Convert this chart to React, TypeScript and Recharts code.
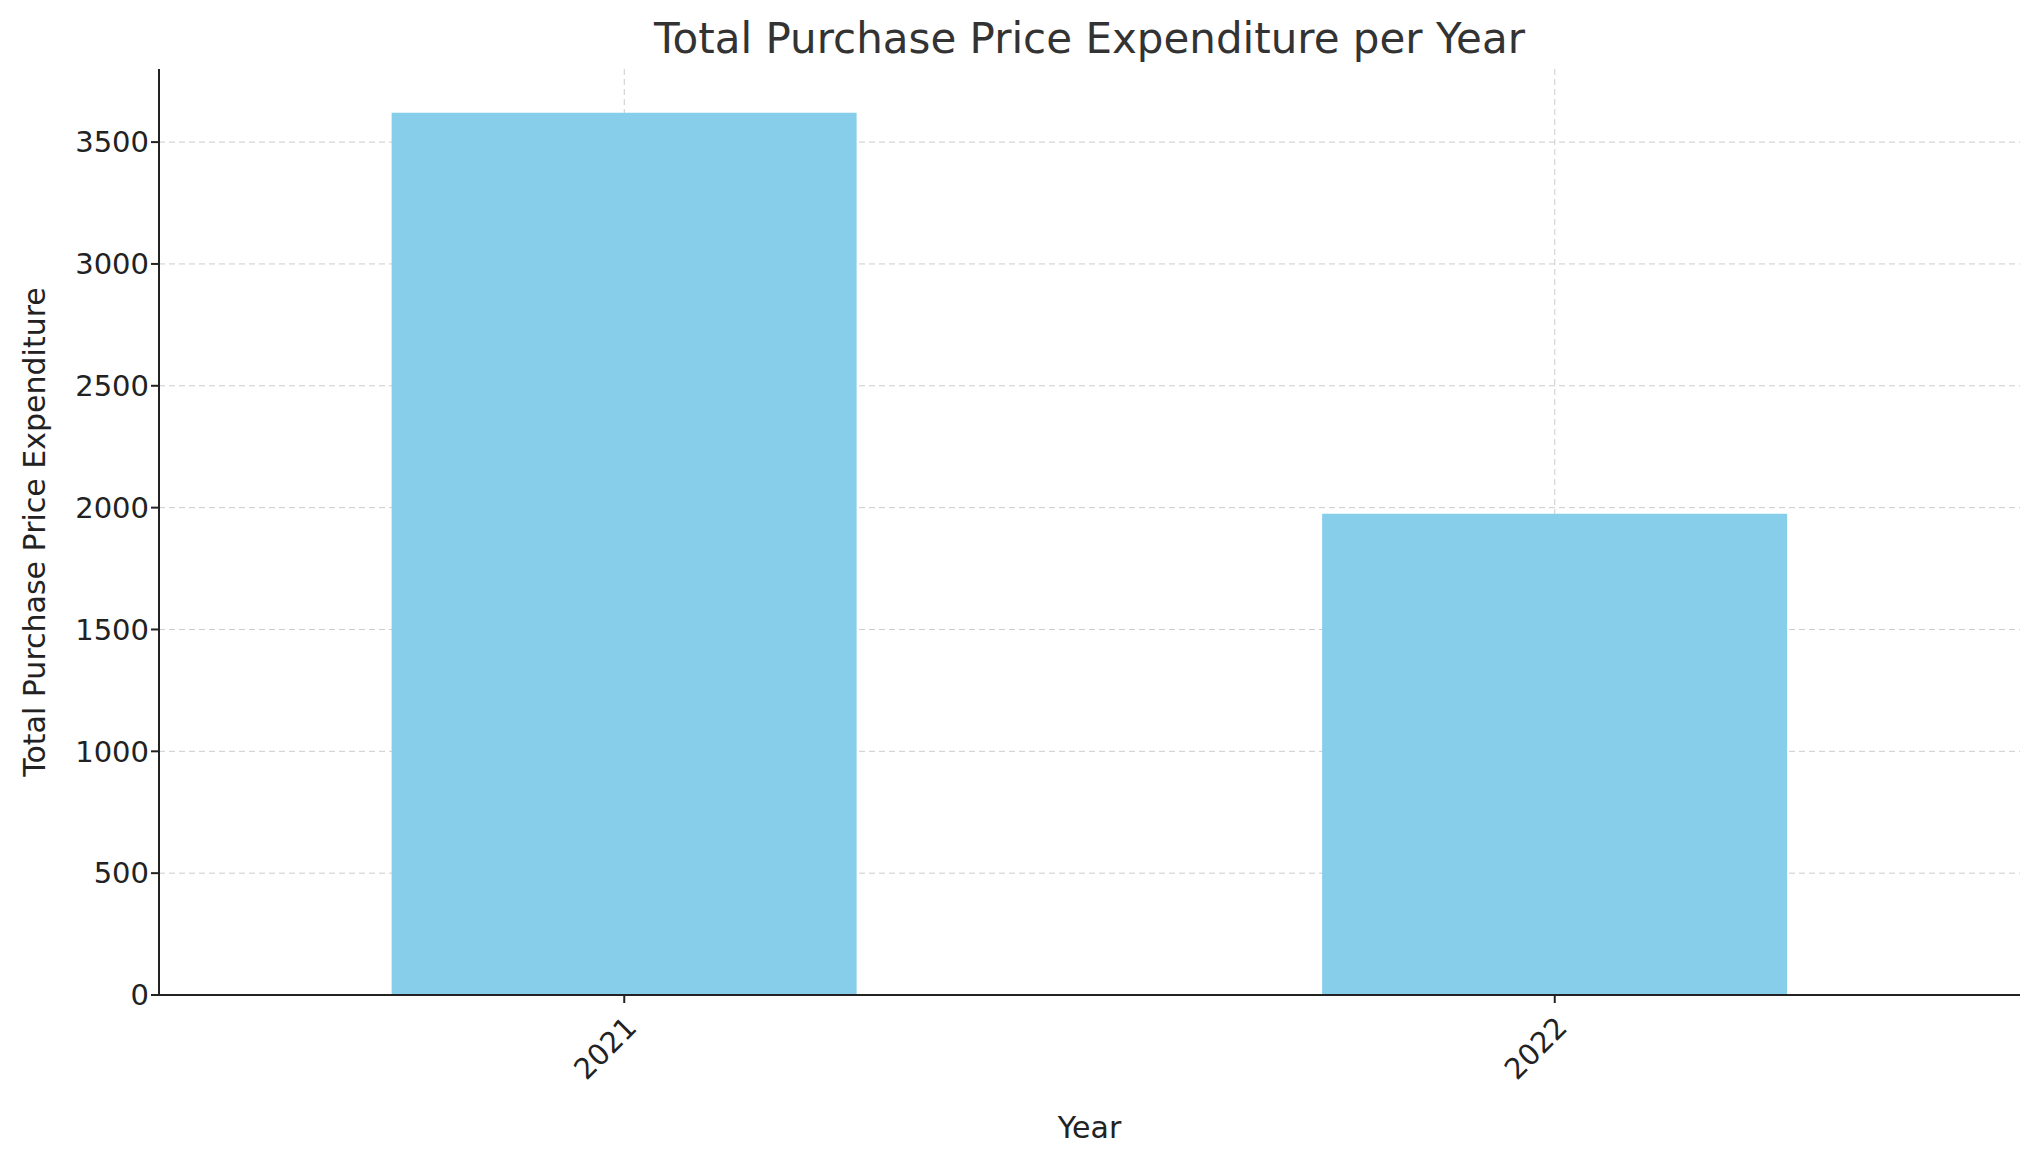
import React from "react";
import { BarChart, Bar, XAxis, YAxis, CartesianGrid, Label } from "recharts";

const years = ["2021", "2022"];
const totals = [3620, 1975];
const yTicks = [0, 500, 1000, 1500, 2000, 2500, 3000, 3500];

const data = years.map((y, i) => ({ year: y, total: totals[i] }));
const FONT = "'DejaVu Sans', sans-serif";

const XTick = (props: any) => {
  const { x, y, payload } = props;
  return (
    <g transform={`translate(${x},${y + 10})`}>
      <text x={0} y={0} dy={20} transform="rotate(-45)" textAnchor="end" fontSize={29} fill="#222" fontFamily={FONT}>
        {payload.value}
      </text>
    </g>
  );
};

export default function App() {
  return (
    <div style={{ position: "absolute", left: 0, top: 0, width: 2038, height: 1152, background: "#fff" }}>
      <div style={{ position: "absolute", top: 14, left: 159, width: 1861, textAlign: "center", fontFamily: FONT, fontSize: 42, color: "#333" }}>
        Total Purchase Price Expenditure per Year
      </div>
      <BarChart width={2038} height={1152} data={data} margin={{ top: 69, right: 18, bottom: 0, left: 0 }} barCategoryGap="25%">
        <CartesianGrid stroke="#ccc" strokeDasharray="6 4" horizontalValues={yTicks} syncWithTicks />
        <XAxis dataKey="year" height={157} tick={<XTick />} tickSize={8} stroke="#222" strokeWidth={2} tickLine={{ stroke: "#222" }}>
          <Label value="Year" position="insideBottom" offset={14} fontSize={30} fill="#222" fontFamily={FONT} />
        </XAxis>
        <YAxis width={159} domain={[0, 3800]} ticks={yTicks} tick={{ fontSize: 29, fill: "#222", fontFamily: FONT }} tickSize={8} stroke="#222" strokeWidth={2}>
          <Label value="Total Purchase Price Expenditure" angle={-90} position="insideLeft" offset={34} style={{ textAnchor: "middle" }} fontSize={30} fill="#222" fontFamily={FONT} />
        </YAxis>
        <Bar dataKey="total" fill="#87CEEB" isAnimationActive={false} />
      </BarChart>
    </div>
  );
}
